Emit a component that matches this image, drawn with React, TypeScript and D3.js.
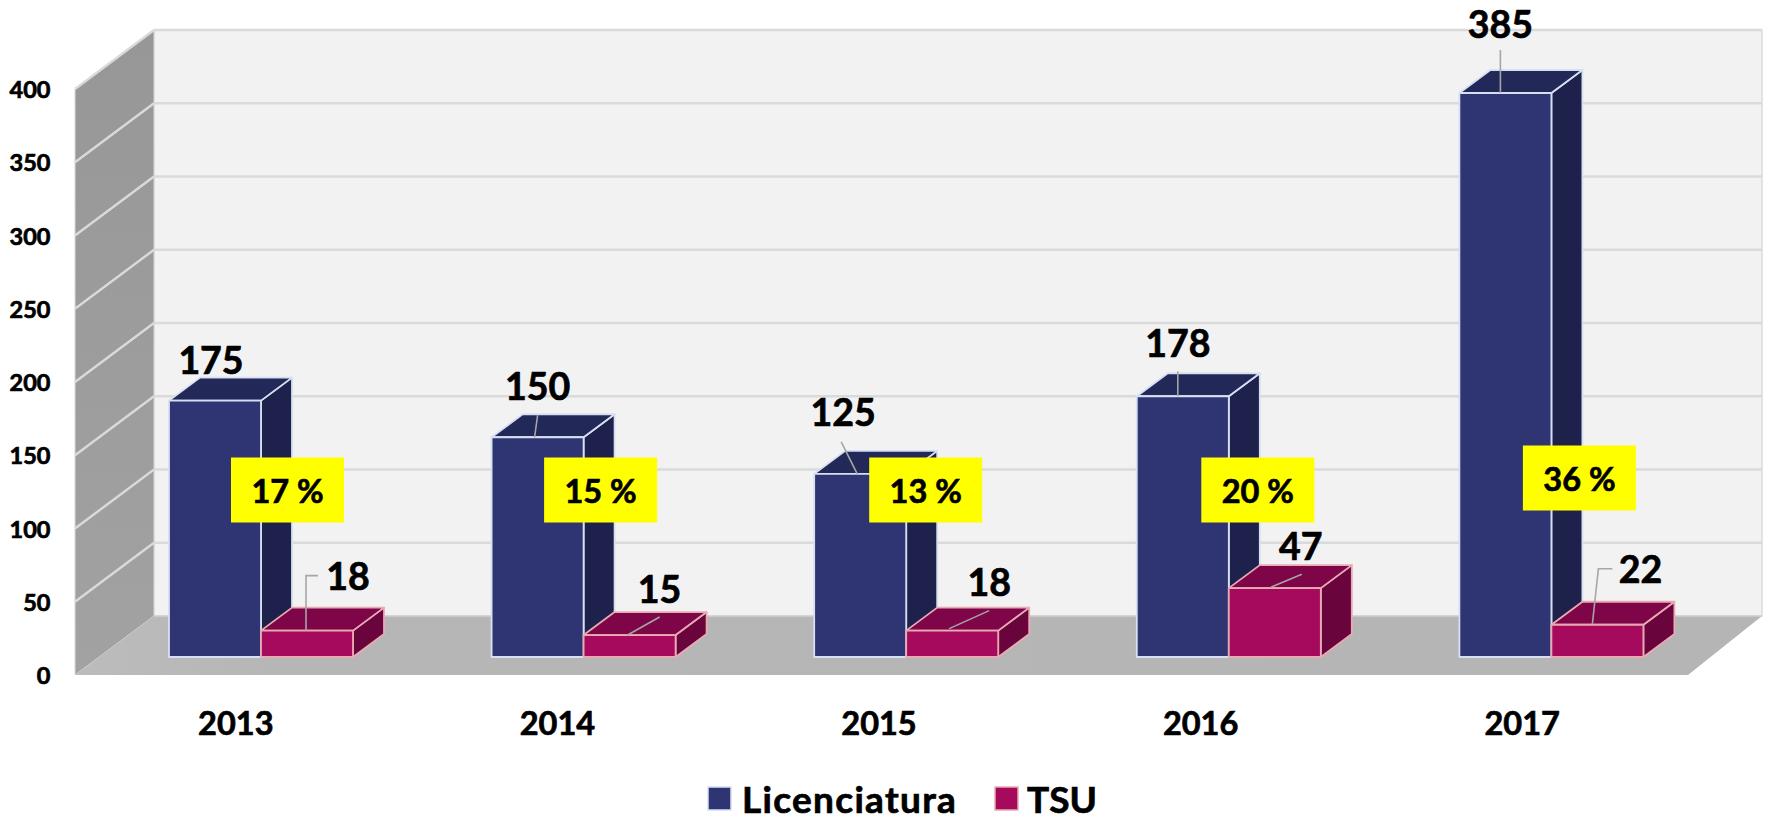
import React from "react";
import * as d3 from "d3";

const categories = ["2013", "2014", "2015", "2016", "2017"];
const licenciatura = [175, 150, 125, 178, 385];
const tsu = [18, 15, 18, 47, 22];
const percents = ["17 %", "15 %", "13 %", "20 %", "36 %"];
const yTicks = [0, 50, 100, 150, 200, 250, 300, 350, 400];
const seriesNames = ["Licenciatura", "TSU"];

// layout only: label and leader offsets from the bar's top-front centre
const licLabelOffset = [[-4, -41], [0, -52], [-17, -62], [-5, -54], [-5, -69]];
const licLeader = [[], [[0, -22], [-3, 0]], [[-19, -32], [-3, 0]], [[-5, -25], [-5, 0]], [[-5, -43], [-5, 0]]];
const tsuLabelOffset = [[41, -55], [30, -47], [37, -49], [26, -43], [43, -56]];
const tsuLeader = [
  [[11, -55], [-1, -55], [-1, 0]],
  [[30, -18], [-2, 0]],
  [[37, -20], [-3, -2]],
  [[27, -14], [-4, -1]],
  [[15, -56], [1, -56], [-5, -1]],
];
const pctBoxOffset = [[212.5, 490], [203, 490], [205.5, 490], [215, 490], [214, 478]];

const FONT = "Lato, Carlito, Calibri, sans-serif";
const W = 1768, H = 822;
const frontX0 = 75, frontX1 = 1688, frontY0 = 675;
const wallDX = 79, wallDY = 59;
const barOffset = 94, barW = 92, barBase = 657, depthX = 31, depthY = 23;
const perUnit = 1.465;

const xBand = d3.scaleBand<string>().domain(categories).range([frontX0, frontX1]);
const xLabel = d3.scaleBand<string>().domain(categories).range([frontX0, frontX1 - 5]);
const yFront = d3.scaleLinear().domain([0, 400]).range([frontY0, frontY0 - 400 * perUnit]);
const yBar = d3.scaleLinear().domain([0, 400]).range([barBase, barBase - 400 * perUnit]);
const backY = (v: number) => yFront(v) - wallDY;
const line = d3.line();
const poly = (pts: [number, number][]) => line(pts) + "Z";

const blue = { front: "#2e3572", top: "#222857", side: "#1e214c", edge: "#d6e0f2" };
const plum = { front: "#a60a5c", top: "#7d0548", side: "#6a043c", edge: "#e9aab4" };

const heavy = { stroke: "#000", strokeWidth: 0.7, paintOrder: "stroke" as const };

function Box({ x, v, c }: { x: number; v: number; c: typeof blue }) {
  const t = yBar(v), r = x + barW;
  return (
    <g stroke={c.edge} strokeWidth={1.8} strokeLinejoin="round">
      <path d={poly([[r, barBase], [r + depthX, barBase - depthY], [r + depthX, t - depthY], [r, t]])} fill={c.side} />
      <path d={poly([[x, t], [x + depthX, t - depthY], [r + depthX, t - depthY], [r, t]])} fill={c.top} />
      <path d={poly([[x, barBase], [x, t], [r, t], [r, barBase]])} fill={c.front} />
    </g>
  );
}

function Callout({ ax, ay, v, off, lead }: { ax: number; ay: number; v: number; off: number[]; lead: number[][] }) {
  return (
    <g>
      {lead.length > 0 && (
        <path
          d={line(lead.map(([dx, dy]) => [ax + dx, ay + dy] as [number, number])) as string}
          fill="none" stroke="#a6a6a6" strokeWidth={1.6}
        />
      )}
      <text x={ax + off[0]} y={ay + off[1]} textAnchor="middle" dominantBaseline="central"
        fontSize={37.5} fontWeight={700} fill="#000" {...heavy}>{v}</text>
    </g>
  );
}

export default function App() {
  const top = 400;
  return (
    <svg width={W} height={H} viewBox={`0 0 ${W} ${H}`}
      style={{ position: "absolute", left: 0, top: 0, display: "block", background: "#fff" }}
      fontFamily={FONT}>
      <defs>
        <linearGradient id="wall" x1="0" y1="0" x2="0" y2="1">
          <stop offset="0" stopColor="#979797" />
          <stop offset="1" stopColor="#a2a2a2" />
        </linearGradient>
        <linearGradient id="floor" x1="0" y1="0" x2="1" y2="0">
          <stop offset="0" stopColor="#bcbcbc" />
          <stop offset="0.12" stopColor="#b6b6b6" />
          <stop offset="1" stopColor="#b5b5b5" />
        </linearGradient>
      </defs>

      <path d={poly([[frontX0 + wallDX, backY(top)], [frontX1 + wallDX - 5, backY(top)], [frontX1 + wallDX - 5, backY(0)], [frontX0 + wallDX, backY(0)]])}
        fill="#f2f2f2" stroke="#dcdcdc" strokeWidth={1.5} />
      <path d={poly([[frontX0, yFront(top)], [frontX0 + wallDX, backY(top)], [frontX0 + wallDX, backY(0)], [frontX0, yFront(0)]])}
        fill="url(#wall)" stroke="#d9d9d9" strokeWidth={1} />
      <path d={poly([[frontX0, yFront(0)], [frontX0 + wallDX, backY(0)], [frontX1 + wallDX - 5, backY(0)], [frontX1, yFront(0)]])}
        fill="url(#floor)" />

      {yTicks.filter((t) => t > 0).map((t) => (
        <g key={t} stroke="#dadada" strokeWidth={2.4} fill="none">
          <path d={line([[frontX0, yFront(t)], [frontX0 + wallDX, backY(t)]]) as string} />
          <path d={line([[frontX0 + wallDX, backY(t)], [frontX1 + wallDX - 5, backY(t)]]) as string} />
        </g>
      ))}
      <path d={line([[frontX0 + wallDX, backY(0)], [frontX1 + wallDX - 5, backY(0)]]) as string} stroke="#d0d0d0" strokeWidth={1.5} />

      {yTicks.map((t) => (
        <text key={t} x={50.5} y={yFront(t)} textAnchor="end" dominantBaseline="central"
          fontSize={23.5} fontWeight={700} fill="#000" {...heavy}>{t}</text>
      ))}

      {categories.map((c, i) => {
        const x = (xBand(c) as number) + barOffset;
        return (
          <g key={c}>
            <Box x={x} v={licenciatura[i]} c={blue} />
            <Box x={x + barW} v={tsu[i]} c={plum} />
          </g>
        );
      })}

      {categories.map((c, i) => {
        const x = (xBand(c) as number) + barOffset;
        return (
          <g key={c}>
            <Callout ax={x + barW / 2} ay={yBar(licenciatura[i])} v={licenciatura[i]} off={licLabelOffset[i]} lead={licLeader[i]} />
            <Callout ax={x + barW * 1.5} ay={yBar(tsu[i])} v={tsu[i]} off={tsuLabelOffset[i]} lead={tsuLeader[i]} />
          </g>
        );
      })}

      {categories.map((c, i) => {
        const cx = (xBand(c) as number) + pctBoxOffset[i][0];
        const cy = pctBoxOffset[i][1];
        return (
          <g key={c}>
            <rect x={cx - 56.5} y={cy - 32.5} width={113} height={65} fill="#ffff00" />
            <text x={cx} y={cy} textAnchor="middle" dominantBaseline="central"
              fontSize={32.5} fontWeight={700} fill="#000" {...heavy}>{percents[i]}</text>
          </g>
        );
      })}

      {categories.map((c) => (
        <text key={c} x={(xLabel(c) as number) + xLabel.bandwidth() / 2} y={722} textAnchor="middle"
          dominantBaseline="central" fontSize={32.5} fontWeight={700} fill="#000" {...heavy}>{c}</text>
      ))}

      <rect x={708} y={787} width={23} height={23} fill={blue.front} stroke={blue.edge} strokeWidth={1.5} />
      <text x={742} y={798} dominantBaseline="central" fontSize={37} fontWeight={700} fill="#000" letterSpacing={1.3} {...heavy}>{seriesNames[0]}</text>
      <rect x={995} y={787} width={23} height={23} fill={plum.front} stroke={plum.edge} strokeWidth={1.5} />
      <text x={1027} y={798} dominantBaseline="central" fontSize={37} fontWeight={700} fill="#000" {...heavy}>{seriesNames[1]}</text>
    </svg>
  );
}
